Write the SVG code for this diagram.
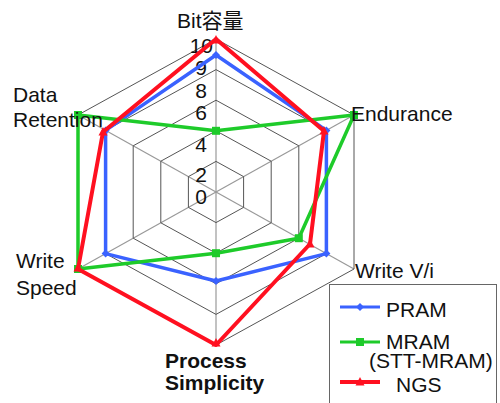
<svg xmlns="http://www.w3.org/2000/svg" width="500" height="403" viewBox="0 0 500 403">
  <style>
    .ring { fill: none; stroke: #555; stroke-width: 1; }
    .spoke { stroke: #999; stroke-width: 1.2; }
    .lbl { font-family: "Liberation Sans", Arial, sans-serif; font-size: 21px; fill: #111; }
    .tick { font-family: "Liberation Sans", Arial, sans-serif; font-size: 21px; fill: #111; text-anchor: end; }
    .bold { font-weight: bold; }
    .series { fill: none; stroke-width: 3.5; stroke-linejoin: round; }
    .pram { stroke: #3a62ff; }
    .mram { stroke: #1ecb2a; }
    .ngs { stroke: #ff1020; stroke-width: 4; }
  </style>
  <defs>
    <path id="dia" d="M0,-4 L4,0 L0,4 L-4,0 Z" fill="#3a62ff"/>
    <rect id="sq" x="-4" y="-4" width="8" height="8" fill="#1ecb2a"/>
    <path id="tri" d="M0,-5 L4.5,3.5 L-4.5,3.5 Z" fill="#ff1020"/>
  </defs>
  <rect width="500" height="403" fill="#fff"/>

  <!-- radar grid: spokes and five rings -->
  <g id="grid">
    <line class="spoke" x1="216" y1="192" x2="216" y2="39"/>
    <line class="spoke" x1="216" y1="192" x2="354" y2="115"/>
    <line class="spoke" x1="216" y1="192" x2="354" y2="269"/>
    <line class="spoke" x1="216" y1="192" x2="216" y2="345"/>
    <line class="spoke" x1="216" y1="192" x2="78" y2="269"/>
    <line class="spoke" x1="216" y1="192" x2="78" y2="115"/>
    <polygon class="ring" points="216,161.4 243.6,176.6 243.6,207.4 216,222.6 188.4,207.4 188.4,176.6"/>
    <polygon class="ring" points="216,130.8 271.2,161.2 271.2,222.8 216,253.2 160.8,222.8 160.8,161.2"/>
    <polygon class="ring" points="216,100.2 298.8,145.8 298.8,238.2 216,283.8 133.2,238.2 133.2,145.8"/>
    <polygon class="ring" points="216,69.6 326.4,130.4 326.4,253.6 216,314.4 105.6,253.6 105.6,130.4"/>
    <polygon class="ring" points="216,39 354,115 354,269 216,345 78,269 78,115"/>
  </g>

  <!-- value scale -->
  <g id="scale">
    <text class="tick" x="213" y="53">10</text>
    <text class="tick" x="207" y="75">9</text>
    <text class="tick" x="207" y="98">8</text>
    <text class="tick" x="207" y="120">6</text>
    <text class="tick" x="207" y="152">4</text>
    <text class="tick" x="207" y="182">2</text>
    <text class="tick" x="207" y="204">0</text>
  </g>

  <!-- data series -->
  <g id="series-pram">
    <polygon class="series pram" points="216,55 326.4,130.4 326.4,253.6 216,281 105.6,253.6 105.6,130.4"/>
    <use href="#dia" x="216" y="55"/>
    <use href="#dia" x="326.4" y="130.4"/>
    <use href="#dia" x="326.4" y="253.6"/>
    <use href="#dia" x="216" y="281"/>
    <use href="#dia" x="105.6" y="253.6"/>
    <use href="#dia" x="105.6" y="130.4"/>
  </g>
  <g id="series-mram">
    <polygon class="series mram" points="216,130.8 354,115 298.8,238.2 216,253.2 78,269 78,115"/>
    <use href="#sq" x="216" y="130.8"/>
    <use href="#sq" x="354" y="115"/>
    <use href="#sq" x="298.8" y="238.2"/>
    <use href="#sq" x="216" y="253.2"/>
    <use href="#sq" x="78" y="269"/>
    <use href="#sq" x="78" y="115"/>
  </g>
  <g id="series-ngs">
    <polygon class="series ngs" points="216,39 324,131 310,244 216,345 78,269 103,132"/>
    <use href="#tri" x="216" y="40"/>
    <use href="#tri" x="324" y="131"/>
    <use href="#tri" x="310" y="244"/>
    <use href="#tri" x="216" y="343"/>
    <use href="#tri" x="78" y="268"/>
    <use href="#tri" x="103" y="132"/>
  </g>

  <!-- axis captions -->
  <g id="axis-bit"><text class="lbl" x="177" y="28">Bit<tspan font-family="'Noto Sans CJK JP', sans-serif">容量</tspan></text></g>
  <g id="axis-endurance"><text class="lbl" x="351" y="121">Endurance</text></g>
  <g id="axis-writevi"><text class="lbl" x="355" y="278">Write V/i</text></g>
  <g id="axis-process"><text class="lbl bold" x="165" y="368">Process</text><text class="lbl bold" x="165" y="390">Simplicity</text></g>
  <g id="axis-writespeed"><text class="lbl" x="16" y="268">Write</text><text class="lbl" x="16" y="295">Speed</text></g>
  <g id="axis-retention"><text class="lbl" x="13" y="102">Data</text><text class="lbl" x="13" y="127">Retention</text></g>

  <!-- legend -->
  <g id="legend">
    <rect x="329.5" y="284.5" width="167" height="130" fill="#fff" stroke="#666" stroke-width="1"/>
    <line x1="340" y1="307" x2="380" y2="307" class="pram" stroke-width="3"/>
    <use href="#dia" x="360" y="307"/>
    <text class="lbl" x="386" y="317">PRAM</text>
    <line x1="340" y1="342" x2="380" y2="342" class="mram" stroke-width="3"/>
    <use href="#sq" x="360" y="342"/>
    <text class="lbl" x="386" y="349">MRAM</text>
    <text class="lbl" x="369" y="368">(STT-MRAM)</text>
    <line x1="340" y1="382" x2="380" y2="382" class="ngs" stroke-width="3"/>
    <use href="#tri" x="360" y="382"/>
    <text class="lbl" x="396" y="392">NGS</text>
  </g>
</svg>
